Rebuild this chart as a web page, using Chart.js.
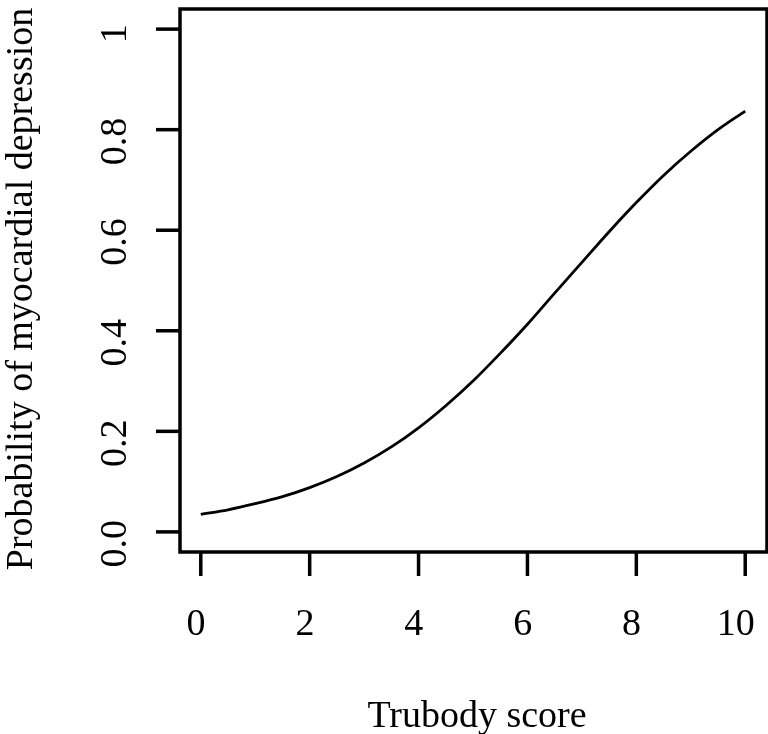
<!DOCTYPE html>
<html lang="en">

<head>
  <meta charset="UTF-8" />
  <title>Trubody score</title>
  <script src="https://cdn.jsdelivr.net/npm/chart.js"></script>
  <style>
    body { margin: 0; background: #fff; }
  </style>
</head>

<body>
  <canvas id="grafico" width="768" height="734"></canvas>

  <script>
    // fitted curve, read at every half point of the score
    const scores = [0, 0.5, 1, 1.5, 2, 2.5, 3, 3.5, 4, 4.5, 5, 5.5, 6, 6.5, 7, 7.5, 8, 8.5, 9, 9.5, 10];
    const probs = [0.035, 0.044, 0.056, 0.070, 0.088, 0.110, 0.137, 0.169, 0.207, 0.251, 0.300,
      0.355, 0.413, 0.475, 0.536, 0.597, 0.655, 0.709, 0.757, 0.800, 0.837];

    const xTicks = [0, 2, 4, 6, 8, 10];
    const yTicks = [0, 0.2, 0.4, 0.6, 0.8, 1];
    const yTickLabels = ["0.0", "0.2", "0.4", "0.6", "0.8", "1"];

    const fonte = '38px "Liberation Serif", "Times New Roman", serif';

    // box, ticks and labels drawn by hand (R base graphics look)
    const eixosR = {
      id: 'eixosR',
      afterDraw(chart) {
        const ctx = chart.ctx;
        const a = chart.chartArea;
        const sx = chart.scales.x;
        const sy = chart.scales.y;
        const tam = 24;

        ctx.save();
        ctx.strokeStyle = '#000';
        ctx.lineWidth = 3.5;
        ctx.strokeRect(a.left + 1, a.top, a.right - a.left - 1, a.bottom - a.top);

        ctx.fillStyle = '#000';
        ctx.font = fonte;

        // eixo x
        ctx.textAlign = 'center';
        ctx.textBaseline = 'alphabetic';
        xTicks.forEach(v => {
          const px = sx.getPixelForValue(v);
          ctx.beginPath();
          ctx.moveTo(px, a.bottom);
          ctx.lineTo(px, a.bottom + tam);
          ctx.stroke();
          const txt = String(v);
          const w = ctx.measureText(txt).width;
          ctx.fillText(txt, px - w * 0.25, 635);
        });

        // eixo y
        yTicks.forEach((v, i) => {
          const py = sy.getPixelForValue(v);
          ctx.beginPath();
          ctx.moveTo(a.left + 1, py);
          ctx.lineTo(a.left + 1 - tam, py);
          ctx.stroke();
          const txt = yTickLabels[i];
          const w = ctx.measureText(txt).width;
          ctx.save();
          ctx.translate(126, py + w * 0.25);
          ctx.rotate(-Math.PI / 2);
          ctx.fillText(txt, 0, 0);
          ctx.restore();
        });

        // titulos
        ctx.fillText('Trubody score', 477, 727);
        ctx.save();
        ctx.translate(32, 289);
        ctx.rotate(-Math.PI / 2);
        ctx.fillText('Probability of myocardial depression', 0, 0);
        ctx.restore();

        ctx.restore();
      }
    };

    const data = {
      datasets: [{
        data: scores.map((s, i) => ({ x: s, y: probs[i] })),
        borderColor: '#000',
        borderWidth: 2.8,
        pointRadius: 0,
        fill: false,
        cubicInterpolationMode: 'monotone'
      }]
    };

    const config = {
      type: 'line',
      data: data,
      options: {
        responsive: false,
        animation: false,
        layout: {
          padding: { left: 179, right: 1, top: 9, bottom: 182 }
        },
        scales: {
          x: { type: 'linear', min: -0.4, max: 10.4, display: false },
          y: { min: -0.04, max: 1.04, display: false }
        },
        plugins: {
          legend: { display: false },
          tooltip: { enabled: false }
        }
      },
      plugins: [eixosR]
    };

    new Chart(document.getElementById('grafico'), config);
  </script>
</body>

</html>
